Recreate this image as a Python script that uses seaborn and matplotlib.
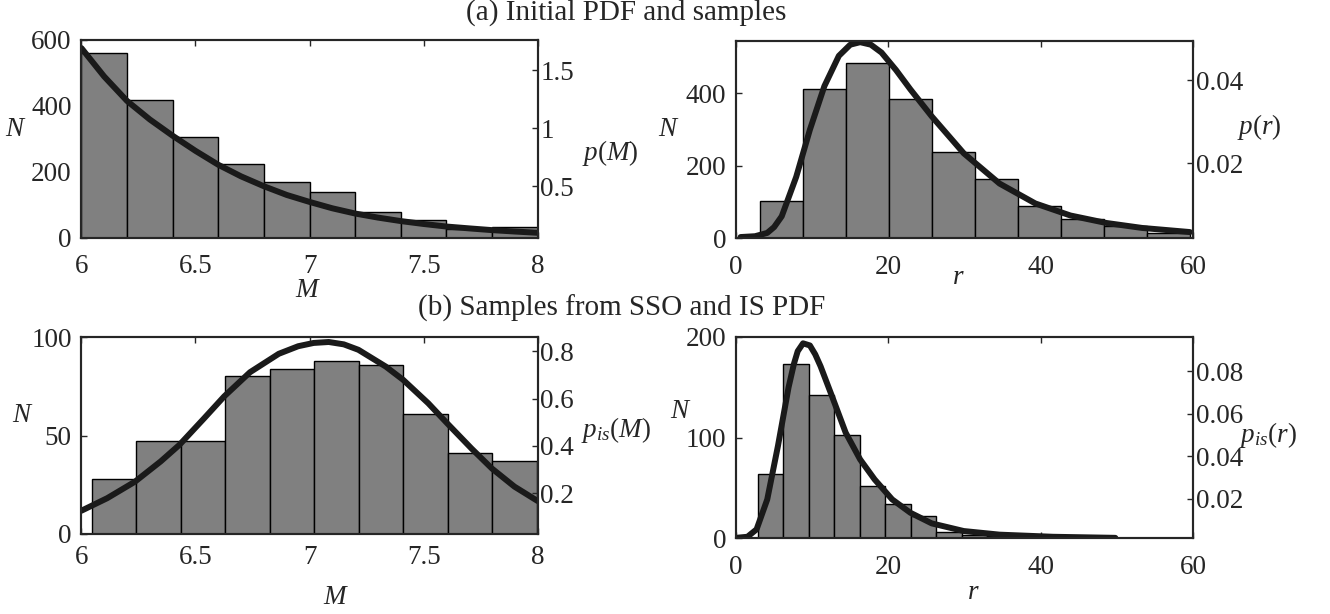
#!/usr/bin/env python3
"""
Initial PDF / importance sampling PDF histograms (M and r) with PDF overlays
"""

import numpy as np
import pandas as pd
import matplotlib
matplotlib.use('Agg')
import matplotlib.pyplot as plt
import seaborn as sns

# ---- (a) initial PDF and samples ----
m_edges_a = [6.0, 6.2, 6.4, 6.6, 6.8, 7.0, 7.2, 7.4, 7.6, 7.8, 8.0]
m_counts_a = [559, 418, 307, 223, 168, 139, 78, 55, 27, 31]
m_curve_x_a = [6.0, 6.1, 6.2, 6.3, 6.4, 6.5, 6.6, 6.7, 6.8, 6.9, 7.0,
               7.1, 7.2, 7.3, 7.4, 7.5, 7.6, 7.7, 7.8, 7.9, 8.0]
m_curve_p_a = [1.69, 1.445, 1.235, 1.075, 0.935, 0.805, 0.685, 0.585, 0.50, 0.425,
               0.365, 0.31, 0.265, 0.23, 0.20, 0.175, 0.153, 0.137, 0.122, 0.11, 0.099]

r_edges_a = [3.1, 8.75, 14.4, 20.05, 25.7, 31.35, 37.0, 42.65, 48.3, 53.95, 59.6]
r_counts_a = [102, 411, 483, 385, 238, 163, 89, 52, 35, 15]
r_curve_x_a = [0.6, 2.5, 4.1, 5.0, 6.0, 7.9, 9.7, 11.6, 13.5, 15.0, 16.3, 17.7,
               19.1, 21.0, 22.9, 25.7, 29.9, 34.6, 39.3, 43.9, 48.6, 53.3, 59.6]
r_curve_p_a = [0.0022, 0.0024, 0.0032, 0.0046, 0.0072, 0.0167, 0.0281, 0.0386,
               0.0459, 0.0486, 0.0492, 0.0486, 0.0467, 0.0425, 0.0378, 0.0313,
               0.0224, 0.0151, 0.0103, 0.0074, 0.0056, 0.0044, 0.0034]

# ---- (b) samples from SSO and IS PDF ----
m_edges_b = [6.045, 6.24, 6.435, 6.63, 6.825, 7.02, 7.215, 7.41, 7.605, 7.80, 7.995]
m_counts_b = [28, 47, 47, 80, 84, 88, 86, 61, 41, 37]
m_curve_x_b = [6.0, 6.113, 6.235, 6.348, 6.43, 6.536, 6.626, 6.739, 6.865, 6.95,
               7.018, 7.084, 7.15, 7.214, 7.334, 7.41, 7.52, 7.604, 7.71, 7.80,
               7.898, 8.0]
m_curve_p_b = [0.126, 0.179, 0.249, 0.335, 0.405, 0.515, 0.610, 0.712, 0.790, 0.822,
               0.836, 0.840, 0.830, 0.807, 0.736, 0.680, 0.581, 0.495, 0.389, 0.304,
               0.228, 0.167]

r_edges_b = [2.85, 6.2, 9.55, 12.9, 16.25, 19.6, 22.95, 26.3, 29.65, 33.0,
             36.35, 39.7, 43.05, 46.4, 49.75]
r_counts_b = [64, 173, 142, 103, 52, 34, 22, 6, 3, 2, 1, 1, 1, 1]
r_curve_x_b = [0.0, 1.5, 2.7, 4.1, 5.5, 6.9, 7.6, 8.1, 8.8, 9.7, 10.4, 11.1, 12.6,
               14.4, 16.3, 18.2, 20.5, 22.9, 25.7, 29.9, 34.6, 41.6, 49.8]
r_curve_p_b = [0.0016, 0.0021, 0.0056, 0.0197, 0.0448, 0.0725, 0.0835, 0.0895,
               0.0932, 0.0922, 0.0880, 0.0824, 0.0683, 0.0511, 0.0385, 0.0291,
               0.0197, 0.0134, 0.0084, 0.0048, 0.0031, 0.0021, 0.0016]

BAR = '#808080'
LINE = '#1a1a1a'
FS = 19.5

sns.set_style('ticks')
plt.rcParams['font.family'] = ['Liberation Serif', 'DejaVu Serif']
plt.rcParams['mathtext.fontset'] = 'custom'
plt.rcParams['mathtext.rm'] = 'Liberation Serif'
plt.rcParams['mathtext.it'] = 'Liberation Serif:italic'
plt.rcParams['axes.linewidth'] = 1.5


def panel(fig, rect, edges, counts, cx, cy, xlim, ylim, ylim2,
          xticks, xticklabels, yticks, yticks2, yticklabels2,
          xlabel, ylabel2, xlab_pos, n_pos, p_pos, xpad):
    ax = fig.add_axes(rect)
    e = np.array(edges)
    hist_df = pd.DataFrame({'x': e[:-1] + np.diff(e) / 2, 'n': counts})
    sns.histplot(data=hist_df, x='x', weights='n', bins=list(edges), ax=ax,
                 color=BAR, edgecolor='black', linewidth=1.0, alpha=1)
    ax.set_xlim(*xlim)
    ax.set_ylim(*ylim)
    ax.set_xticks(xticks)
    ax.set_xticklabels(xticklabels)
    ax.set_yticks(yticks)
    ax.tick_params(direction='in', top=True, right=False, length=4, width=1,
                   labelsize=FS)
    ax.tick_params(axis='x', pad=xpad)
    ax.tick_params(axis='y', pad=7)
    ax.set_xlabel(xlabel, fontsize=FS)
    ax.xaxis.set_label_coords(*xlab_pos)
    ax.xaxis.label.set_verticalalignment('center')
    ax.set_ylabel('$N$', fontsize=FS, rotation=0)
    ax.yaxis.set_label_coords(*n_pos)
    ax.yaxis.label.set_verticalalignment('center')
    ax.yaxis.label.set_horizontalalignment('center')

    ax2 = ax.twinx()
    curve_df = pd.DataFrame({'x': cx, 'p': cy})
    sns.lineplot(data=curve_df, x='x', y='p', ax=ax2, color=LINE,
                 linewidth=4.3, sort=False)
    ax2.set_ylim(*ylim2)
    ax2.set_yticks(yticks2)
    ax2.set_yticklabels(yticklabels2)
    ax2.tick_params(direction='in', right=True, left=False, length=4, width=1,
                    labelsize=FS, pad=2)
    ax2.set_ylabel(ylabel2, fontsize=FS, rotation=0)
    ax2.yaxis.set_label_coords(*p_pos)
    ax2.yaxis.label.set_verticalalignment('center')
    ax2.yaxis.label.set_horizontalalignment('center')
    for a in (ax, ax2):
        for s in a.spines.values():
            s.set_visible(True)
            s.set_linewidth(1.5)
    return ax, ax2


fig = plt.figure(figsize=(13.3, 6.14), dpi=100)

panel(fig, [0.0612, 0.6129, 0.3431, 0.3220], m_edges_a, m_counts_a,
      m_curve_x_a, m_curve_p_a, (6, 8), (0, 600), (0.057, 1.76),
      [6, 6.5, 7, 7.5, 8], ['6', '6.5', '7', '7.5', '8'], [0, 200, 400, 600],
      [0.5, 1, 1.5], ['0.5', '1', '1.5'],
      '$M$', '$p(M)$', (0.497, -0.265), (-0.143, 0.545), (1.158, 0.428), 12)

panel(fig, [0.5534, 0.6119, 0.3436, 0.3221], r_edges_a, r_counts_a,
      r_curve_x_a, r_curve_p_a, (0, 60), (0, 546), (0.0019, 0.0496),
      [0, 20, 40, 60], ['0', '20', '40', '60'], [0, 200, 400],
      [0.02, 0.04], ['0.02', '0.04'],
      '$r$', '$p(r)$', (0.486, -0.196), (-0.147, 0.548), (1.144, 0.563), 12)

panel(fig, [0.0612, 0.1303, 0.3431, 0.3208], m_edges_b, m_counts_b,
      m_curve_x_b, m_curve_p_b, (6, 8), (0, 100), (0.0275, 0.861),
      [6, 6.5, 7, 7.5, 8], ['6', '6.5', '7', '7.5', '8'], [0, 50, 100],
      [0.2, 0.4, 0.6, 0.8], ['0.2', '0.4', '0.6', '0.8'],
      '$M$', '$p_{is}(M)$', (0.558, -0.32), (-0.128, 0.604), (1.172, 0.528), 8)

panel(fig, [0.5534, 0.1230, 0.3436, 0.3282], r_edges_b, r_counts_b,
      r_curve_x_b, r_curve_p_b, (0, 60), (0, 200), (0.0013, 0.0962),
      [0, 20, 40, 60], ['0', '20', '40', '60'], [0, 100, 200],
      [0.02, 0.04, 0.06, 0.08], ['0.02', '0.04', '0.06', '0.08'],
      '$r$', '$p_{is}(r)$', (0.52, -0.27), (-0.12, 0.628), (1.164, 0.514), 12)

fig.text(626 / 1330, 1 - 13 / 614, '(a) Initial PDF and samples',
         ha='center', va='center', fontsize=21)
fig.text(622 / 1330, 1 - 308 / 614, '(b) Samples from SSO and IS PDF',
         ha='center', va='center', fontsize=21)

plt.savefig('out.png', dpi=100)
plt.close()
